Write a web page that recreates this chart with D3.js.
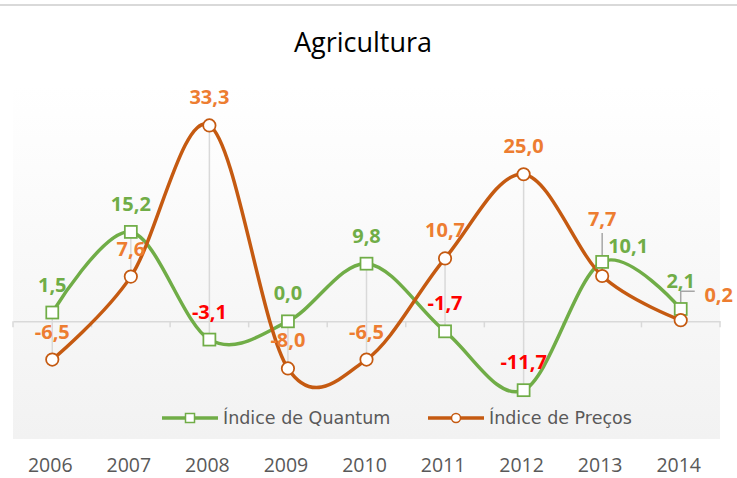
<!DOCTYPE html>
<html>
<head>
<meta charset="utf-8">
<script src="https://cdn.jsdelivr.net/npm/d3@7"></script>
<style>
  html, body { margin: 0; padding: 0; background: #ffffff; }
  svg { display: block; }
</style>
</head>
<body>
<svg id="chart" width="737" height="478"></svg>
<script>
// ---- data ----
const years = ["2006","2007","2008","2009","2010","2011","2012","2013","2014"];
const quantum = [1.5, 15.2, -3.1, 0.0, 9.8, -1.7, -11.7, 10.1, 2.1];
const precos  = [-6.5, 7.6, 33.3, -8.0, -6.5, 10.7, 25.0, 7.7, 0.2];
const seriesNames = ["Índice de Quantum", "Índice de Preços"];
const title = "Agricultura";

// ---- style / layout ----
const W = 737, H = 478;
const plot = { left: 13, right: 720, top: 86, bottom: 439 };
const green = "#70ad47", orange = "#c55a11", orangeLbl = "#ed7d31", red = "#ff0000";
// label offsets relative to default (index -> [dx, dy])
const qOffsets = { 7: [26, 12] };
const pOffsets = { 7: [0, -29], 8: [38, 3] };

const svg = d3.select("#chart");

// top border line
svg.append("rect").attr("x", 0).attr("y", 4).attr("width", W).attr("height", 2).attr("fill", "#d9d9d9");

const defs = svg.append("defs");
const grad = defs.append("linearGradient").attr("id", "bg").attr("x1", 0).attr("y1", 0).attr("x2", 0).attr("y2", 1);
grad.append("stop").attr("offset", "0%").attr("stop-color", "#ffffff");
grad.append("stop").attr("offset", "100%").attr("stop-color", "#f2f2f2");

svg.append("rect")
  .attr("x", plot.left).attr("y", plot.top)
  .attr("width", plot.right - plot.left).attr("height", plot.bottom - plot.top)
  .attr("fill", "url(#bg)");

const xb = d3.scaleBand().domain(years).range([plot.left, plot.right]);
const xc = d => xb(d) + xb.bandwidth() / 2;
const y = d3.scaleLinear().domain([-20, 40]).range([plot.bottom, plot.top]);

// title
svg.append("text").attr("x", 363).attr("y", 52).attr("text-anchor", "middle")
  .attr("font-family", "'Open Sans', sans-serif").attr("font-size", 27).attr("fill", "#000")
  .text(title);

// x axis at zero
const axis = d3.axisBottom(xb).tickSize(0).tickFormat("");
const axG = svg.append("g").attr("transform", `translate(0,${y(0)})`).call(axis);
axG.select(".domain").attr("stroke", "#d9d9d9").attr("stroke-width", 1.5);
// band boundary ticks
const bounds = years.map(d => xb(d)).concat([plot.right]);
axG.selectAll("line.bt").data(bounds).enter().append("line")
  .attr("x1", d => d).attr("x2", d => d).attr("y1", 0).attr("y2", 6)
  .attr("stroke", "#d9d9d9").attr("stroke-width", 1.5);

// category labels below
svg.append("g").selectAll("text").data(years).enter().append("text")
  .attr("x", d => xc(d) - 2).attr("y", 472).attr("text-anchor", "middle")
  .attr("font-family", "'Open Sans', sans-serif").attr("font-size", 19.5).attr("fill", "#595959")
  .text(d => d);

// high-low lines
svg.append("g").selectAll("line").data(years).enter().append("line")
  .attr("x1", d => xc(d)).attr("x2", d => xc(d))
  .attr("y1", (d, i) => y(Math.max(quantum[i], precos[i])))
  .attr("y2", (d, i) => y(Math.min(quantum[i], precos[i])))
  .attr("stroke", "#d9d9d9").attr("stroke-width", 1.5);

const line = d3.line().x(d => xc(d.year)).y(d => y(d.v)).curve(d3.curveCardinal.tension(0));
const qData = years.map((yr, i) => ({ year: yr, v: quantum[i] }));
const pData = years.map((yr, i) => ({ year: yr, v: precos[i] }));

svg.append("path").datum(qData).attr("d", line).attr("fill", "none")
  .attr("stroke", green).attr("stroke-width", 3.5);
svg.append("path").datum(pData).attr("d", line).attr("fill", "none")
  .attr("stroke", orange).attr("stroke-width", 3.5);

// leader lines
const i13 = 7, i14 = 8;
svg.append("line")
  .attr("x1", xc(years[i13])).attr("x2", xc(years[i13]))
  .attr("y1", y(precos[i13]) - 57 + 14).attr("y2", y(precos[i13]) - 4)
  .attr("stroke", "#a6a6a6").attr("stroke-width", 1.5);
svg.append("path")
  .attr("d", `M${xc(years[i14])},${y(precos[i14]) - 2}V${y(precos[i14]) - 29}H${xc(years[i14]) + 14}`)
  .attr("fill", "none").attr("stroke", "#a6a6a6").attr("stroke-width", 1.5);

// markers
svg.append("g").selectAll("rect").data(qData).enter().append("rect")
  .attr("x", d => xc(d.year) - 6).attr("y", d => y(d.v) - 6)
  .attr("width", 12).attr("height", 12)
  .attr("fill", "#fff").attr("stroke", green).attr("stroke-width", 1.75);
svg.append("g").selectAll("circle").data(pData).enter().append("circle")
  .attr("cx", d => xc(d.year)).attr("cy", d => y(d.v)).attr("r", 6.2)
  .attr("fill", "#fff").attr("stroke", orange).attr("stroke-width", 1.75);

const fmt = v => v.toFixed(1).replace(".", ",");

// data labels
function labels(data, offsets, colorFn) {
  svg.append("g").selectAll("text").data(data).enter().append("text")
    .attr("x", (d, i) => xc(d.year) + (offsets[i] ? offsets[i][0] : 0))
    .attr("y", (d, i) => y(d.v) - 21 + (offsets[i] ? offsets[i][1] : 0))
    .attr("text-anchor", "middle")
    .attr("font-family", "'Open Sans', sans-serif").attr("font-weight", "bold")
    .attr("font-size", 20)
    .attr("fill", colorFn)
    .text(d => fmt(d.v));
}
labels(qData, qOffsets, d => d.v < 0 ? red : green);
labels(pData, pOffsets, () => orangeLbl);

// legend
const lg = svg.append("g");
const legendItems = [
  { name: seriesNames[0], color: green, x: 162, shape: "square" },
  { name: seriesNames[1], color: orange, x: 428, shape: "circle" }
];
legendItems.forEach(it => {
  lg.append("line").attr("x1", it.x).attr("x2", it.x + 56).attr("y1", 418).attr("y2", 418)
    .attr("stroke", it.color).attr("stroke-width", 3.5);
  if (it.shape === "square") {
    lg.append("rect").attr("x", it.x + 28 - 4.5).attr("y", 418 - 4.5).attr("width", 9).attr("height", 9)
      .attr("fill", "#fff").attr("stroke", it.color).attr("stroke-width", 1.5);
  } else {
    lg.append("circle").attr("cx", it.x + 28).attr("cy", 418).attr("r", 4.5)
      .attr("fill", "#fff").attr("stroke", it.color).attr("stroke-width", 1.5);
  }
  lg.append("text").attr("x", it.x + 61).attr("y", 424)
    .attr("font-family", "'DejaVu Sans', sans-serif").attr("font-size", 17.5).attr("fill", "#595959")
    .text(it.name);
});
</script>
</body>
</html>
